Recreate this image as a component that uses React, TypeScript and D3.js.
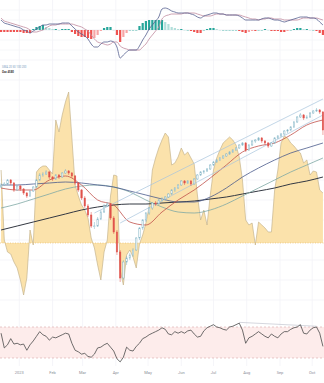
import React from "react";
import * as d3 from "d3";

const W = 324;
const H = 383;
const START = new Date(2022, 11, 14);
const END = new Date(2023, 9, 12);
const CANDLE_START = new Date(2022, 11, 15);
const STEP_DAYS = 3;

const monthDates = [
  new Date(2023, 0, 1), new Date(2023, 1, 1), new Date(2023, 2, 1), new Date(2023, 3, 1),
  new Date(2023, 4, 1), new Date(2023, 5, 1), new Date(2023, 6, 1), new Date(2023, 7, 1),
  new Date(2023, 8, 1), new Date(2023, 9, 1),
];
const monthLabels = ["2023", "Feb", "Mar", "Apr", "May", "Jun", "Jul", "Aug", "Sep", "Oct"];

// [open, high, low, close]
const candles: [number, number, number, number][] = [
  [113,117,112,115],[115,118,114,116],[116,121,115,120],[120,121,115,117],[117,118,108,110],
  [110,115,109,114],[114,115,109,111],[111,112,105,107],[107,108,102,104],[104,110,103,109],
  [109,114,108,113],[113,121,112,120],[120,127,119,125],[125,128,123,126],[126,130,125,128],
  [128,129,121,123],[123,124,119,121],[121,126,120,125],[125,126,121,123],[123,128,122,127],
  [127,131,126,129],[129,130,125,127],[127,128,122,124],[124,125,115,117],[117,118,108,110],
  [110,111,100,102],[102,104,92,94],[94,96,83,85],[85,88,72,74],[74,78,71,74],
  [74,83,73,81],[81,90,80,88],[88,96,87,94],[94,98,93,96],[96,97,80,82],
  [82,84,66,68],[68,70,45,48],[48,50,18,22],[22,40,20,38],[38,44,35,42],
  [42,47,40,45],[45,52,43,50],[50,63,49,62],[62,73,60,72],[72,81,70,80],
  [80,88,78,87],[87,93,85,92],[92,98,90,97],[97,99,94,96],[96,101,95,100],
  [100,103,98,101],[101,104,99,103],[103,107,102,106],[106,111,105,110],[110,113,108,112],
  [112,116,111,115],[115,120,114,119],[119,120,115,117],[117,120,116,119],[119,120,114,116],
  [116,122,115,121],[121,126,120,125],[125,129,124,128],[128,130,126,129],[129,132,128,131],
  [131,136,130,135],[135,139,134,138],[138,141,137,140],[140,143,139,142],[142,145,141,144],
  [144,147,143,146],[146,149,145,148],[148,151,147,150],[150,153,149,152],[152,156,151,155],
  [155,158,154,157],[157,158,148,150],[150,156,149,155],[155,160,154,159],[159,161,157,160],
  [160,163,159,162],[162,163,157,159],[159,160,155,157],[157,158,152,154],[154,158,153,157],
  [157,163,156,162],[162,165,161,164],[164,167,163,166],[166,170,165,169],[169,171,167,170],
  [170,174,169,173],[173,179,172,178],[178,184,177,183],[183,187,182,185],[185,186,180,182],
  [182,185,181,183],[183,188,182,187],[187,190,186,189],[189,192,188,190],[190,191,186,188],
  [188,189,165,170],
];

// moving averages sampled every 5 candles
const maIndex = [0,5,10,15,20,25,30,35,40,45,50,55,60,65,70,75,80,85,90,95,100];
const ma20 = [112,110,110,120,124,115,100,95,78,75,88,100,110,122,135,148,154,157,165,175,180];
const ma50 = [115,115,116,117,118,117,115,113,109,105,101,98,98,103,112,123,132,140,147,152,157];
const ma100 = [92,96,101,106,111,114,115,113,108,100,93,88,87,90,96,104,112,120,128,135,142];
const ma200 = [70,74,78,82,86,90,93,95,96,96,97,98,99,101,103,106,109,112,116,119,123];

// channel lines: [candle index, value]
const channelUpper: [number, number][] = [[29, 87], [100, 201]];
const channelLower: [number, number][] = [[37, 77], [100, 185]];

const oscillator = [
  73,3,-9,-11,-19,-25,-37,-52,-35,13,-2,71,75,77,77,73,69,123,111,128,
  141,151,105,58,47,38,33,25,5,-5,-22,-37,-9,3,47,68,67,-27,-42,-12,
  -7,-14,-25,-1,8,20,36,73,85,95,103,110,106,78,80,86,95,88,91,85,
  79,48,23,33,18,48,73,85,93,100,103,106,103,98,86,63,23,18,20,-2,
  21,18,15,11,11,53,73,100,107,105,100,97,93,90,80,83,68,72,71,53,
  50,
];

const macd = [
  10,7,6,5,4,3,2,0,-1,-3,-1,1,3,5,5,6,6,6,6,7,
  7,7,4,1,-2,-4,-6,-9,-14,-17,-17,-14,-12,-12,-11,-12,-17,-28,-25,-22,
  -20,-20,-20,-16,-10,-5,1,5,9,13,21,22,21,19,18,17,17,17,17,16,
  15,13,12,14,15,16,17,17,16,16,15,15,15,15,14,12,10,10,10,10,
  10,11,12,12,11,10,10,9,8,9,10,11,12,13,13,13,12,12,11,8,
  5,
];
const signal = [
  12,9,8,7,6,5,4,3,2,0,-2,-2,-1,0,2,4,5,5,6,6,
  6,6,6,5,4,3,1,-1,-5,-9,-12,-13,-14,-15,-14,-12,-12,-16,-18,-19,
  -20,-20,-20,-20,-17,-14,-9,-5,-1,3,11,14,15,16,16,16,16,17,17,17,
  17,16,15,14,14,14,15,16,16,16,15,15,15,15,15,14,13,12,11,11,
  10,11,11,12,12,11,11,11,10,10,10,10,10,11,12,12,12,12,12,11,
  10,
];

const rsi = [
  62,43,47,55,48,49,47,48,40,47,52,58,64,60,58,53,57,56,58,60,
  62,61,49,40,38,35,36,32,31,35,43,44,47,49,44,39,29,25,31,44,
  40,39,45,49,55,57,60,62,64,66,69,67,61,60,64,62,64,62,65,66,
  61,57,58,65,69,71,73,70,69,67,66,70,71,73,75,66,49,56,58,61,
  64,61,58,56,61,58,56,61,64,64,67,69,70,73,62,61,66,69,70,62,
  45,
];
const rsiTrend: [number, number][] = [[74, 76], [98, 71]];
const legendLines = ["SMA 20 50 100 200", "Osc  4580"];

export default function App() {
  const x = d3.scaleTime().domain([START, END]).range([0, W]);
  const dateAt = (i: number) => d3.timeDay.offset(CANDLE_START, i * STEP_DAYS);
  const xi = (i: number) => x(dateAt(i));

  const yMacd = d3.scaleLinear().domain([-30, 30]).range([60, 0]);
  const yPrice = d3.scaleLinear().domain([0, 240]).range([300, 60]);
  const yOsc = d3.scaleLinear().domain([-60, 183]).range([303, 60]);
  const yRsi = d3.scaleLinear().domain([0, 100]).range([381.25, 303.75]);

  const maLine = d3
    .line<number>()
    .x((_, k) => xi(maIndex[k]))
    .y((v) => yPrice(v))
    .curve(d3.curveMonotoneX);

  const seg = (pts: [number, number][]) =>
    d3.line<[number, number]>().x((p) => xi(p[0])).y((p) => yPrice(p[1]))(pts) || "";

  const oscArea = d3
    .area<number>()
    .x((_, i) => xi(i))
    .y0(yOsc(0))
    .y1((v) => yOsc(v))(oscillator) || "";
  const oscLine = d3.line<number>().x((_, i) => xi(i)).y((v) => yOsc(v))(oscillator) || "";

  const macdLine = d3.line<number>().x((_, i) => xi(i)).y((v) => yMacd(v)).curve(d3.curveMonotoneX)(macd) || "";
  const sigLine = d3.line<number>().x((_, i) => xi(i)).y((v) => yMacd(v)).curve(d3.curveMonotoneX)(signal) || "";
  const hist = macd.map((m, i) => m - signal[i]);

  const rsiLine = d3.line<number>().x((_, i) => xi(i)).y((v) => yRsi(v))(rsi) || "";
  const rsiTrendPath =
    d3.line<[number, number]>().x((p) => xi(p[0])).y((p) => yRsi(p[1]))(rsiTrend) || "";

  const gridY = d3.range(0, 241, 20);

  return (
    <svg
      width={W}
      height={H}
      style={{ position: "absolute", left: 0, top: 0, background: "#fff", fontFamily: "Roboto, sans-serif" }}
    >
      {/* grid */}
      {monthDates.map((d, i) => (
        <line key={"vg" + i} x1={x(d)} x2={x(d)} y1={0} y2={366} stroke="#f2f3f7" strokeWidth={0.8} />
      ))}
      {gridY.map((v) => (
        <line key={"hg" + v} x1={0} x2={W} y1={yPrice(v)} y2={yPrice(v)} stroke="#f2f3f7" strokeWidth={0.8} />
      ))}
      {[10, 20, -10, -20].map((v) => (
        <line key={"mg" + v} x1={0} x2={W} y1={yMacd(v)} y2={yMacd(v)} stroke="#f4f5f8" strokeWidth={0.8} />
      ))}

      {/* MACD panel */}
      <line x1={0} x2={W} y1={yMacd(0)} y2={yMacd(0)} stroke="#e4e6ec" strokeWidth={0.6} />
      {hist.map((h, i) => {
        const prev = i > 0 ? hist[i - 1] : h;
        const color = h >= 0 ? (h >= prev ? "#26a69a" : "#b2dfdb") : h <= prev ? "#ef5350" : "#f7a5a5";
        const y0 = yMacd(0);
        const y1 = yMacd(h);
        return (
          <rect
            key={"h" + i}
            x={xi(i) - 1.1}
            width={2.2}
            y={Math.min(y0, y1)}
            height={Math.max(0.4, Math.abs(y1 - y0))}
            fill={color}
          />
        );
      })}
      <path d={sigLine} fill="none" stroke="#c08a9e" strokeWidth={0.8} />
      <path d={macdLine} fill="none" stroke="#55608f" strokeWidth={0.8} />

      {/* main panel oscillator */}
      <path d={oscArea} fill="#fbe2ab" stroke="none" />
      <path d={oscLine} fill="none" stroke="#c5b58e" strokeWidth={0.7} />
      <line x1={0} x2={W} y1={yOsc(0)} y2={yOsc(0)} stroke="#e8b860" strokeWidth={0.6} strokeDasharray="1,1.5" />

      {/* moving averages */}
      <path d={maLine(ma200) || ""} fill="none" stroke="#333842" strokeWidth={1} />
      <path d={maLine(ma100) || ""} fill="none" stroke="#7fa8a4" strokeWidth={0.8} />
      <path d={maLine(ma50) || ""} fill="none" stroke="#4a5b8c" strokeWidth={0.8} />
      <path d={maLine(ma20) || ""} fill="none" stroke="#c0504a" strokeWidth={0.8} />
      <path d={seg(channelUpper)} fill="none" stroke="#a8c4dc" strokeWidth={0.7} />
      <path d={seg(channelLower)} fill="none" stroke="#a8c4dc" strokeWidth={0.7} />

      {/* candles */}
      {candles.map(([o, h, l, c], i) => {
        const up = c >= o;
        const color = up ? "#7fb2c4" : "#e0514a";
        const cx = xi(i);
        const top = yPrice(Math.max(o, c));
        const hgt = Math.max(0.6, Math.abs(yPrice(o) - yPrice(c)));
        return (
          <g key={"c" + i}>
            <line x1={cx} x2={cx} y1={yPrice(h)} y2={top} stroke={color} strokeWidth={0.5} />
            <line x1={cx} x2={cx} y1={top + hgt} y2={yPrice(l)} stroke={color} strokeWidth={0.5} />
            <rect
              x={cx - 0.7}
              width={1.4}
              y={top}
              height={hgt}
              fill={up ? "#ffffff" : color}
              stroke={color}
              strokeWidth={0.5}
            />
          </g>
        );
      })}

      {/* legend */}
      <text x={2} y={68} fontSize={2.8} fill="#7a9cc0">{legendLines[0]}</text>
      <text x={2} y={73} fontSize={2.8} fill="#333" fontWeight="bold">{legendLines[1]}</text>

      {/* RSI panel */}
      <rect x={0} width={W} y={yRsi(70)} height={yRsi(30) - yRsi(70)} fill="#fdeceb" />
      <line x1={0} x2={W} y1={yRsi(70)} y2={yRsi(70)} stroke="#d9a8a8" strokeWidth={0.6} strokeDasharray="2,2" />
      <line x1={0} x2={W} y1={yRsi(30)} y2={yRsi(30)} stroke="#d9a8a8" strokeWidth={0.6} strokeDasharray="2,2" />
      <path d={rsiTrendPath} fill="none" stroke="#b8bcc8" strokeWidth={0.6} />
      <path d={rsiLine} fill="none" stroke="#4a4a4a" strokeWidth={0.8} />

      {/* month labels */}
      {monthDates.map((d, i) => (
        <text key={"ml" + i} x={x(d)} y={374} fontSize={4} fill="#8a8d96" textAnchor="middle">
          {monthLabels[i]}
        </text>
      ))}
    </svg>
  );
}
